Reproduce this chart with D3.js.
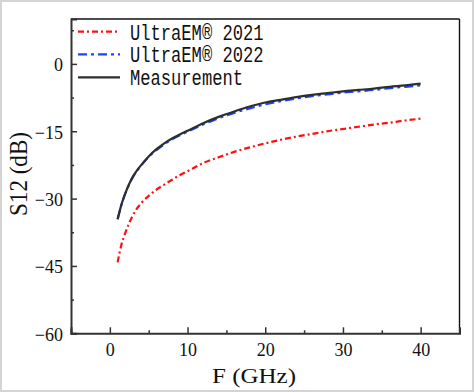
<!DOCTYPE html>
<html><head><meta charset="utf-8">
<script src="https://cdn.jsdelivr.net/npm/d3@7"></script>
<style>html,body{margin:0;padding:0;background:#fff;}svg{display:block;}</style>
</head><body>
<svg id="c" width="474" height="392"></svg>
<script>
const freq = [1,1.5,2,2.5,3,3.5,4,5,6,7,8,9,10,12,14,16,18,20,22,24,26,28,30,32,34,36,38,40];
const ultra2021 = [-44.2,-40.2,-37.6,-35.4,-33.6,-32.2,-31.1,-29.4,-28.0,-26.9,-25.8,-24.8,-23.9,-22.1,-20.8,-19.6,-18.6,-17.7,-16.9,-16.2,-15.6,-15.0,-14.5,-14.0,-13.5,-13.1,-12.6,-12.2];
const ultra2022 = [-34.6,-31.3,-28.8,-26.8,-25.1,-23.8,-22.7,-20.7,-19.2,-17.9,-16.8,-15.9,-15.1,-13.5,-12.1,-10.9,-9.9,-9.0,-8.3,-7.7,-7.2,-6.8,-6.4,-6.1,-5.8,-5.4,-5.1,-4.8];
const measurement = [-34.6,-31.3,-28.8,-26.7,-25.0,-23.7,-22.6,-20.6,-19.0,-17.7,-16.6,-15.7,-14.9,-13.2,-11.8,-10.6,-9.5,-8.6,-8.0,-7.4,-6.9,-6.5,-6.1,-5.8,-5.5,-5.1,-4.8,-4.4];
const xTicks = [0,10,20,30,40];
const xMinor = [-5,5,15,25,35,45];
const yTicks = [0,-15,-30,-45,-60];
const yMinor = [7.5,-7.5,-22.5,-37.5,-52.5];
const seriesNames = ["UltraEM\u00AE 2021","UltraEM\u00AE 2022","Measurement"];

const svg = d3.select("#c");
svg.append("rect").attr("x",1).attr("y",1).attr("width",472).attr("height",390)
  .attr("fill","#fff").attr("stroke","#d4d4d4").attr("stroke-width",2);

const L=71, R=459.5, T=19, B=333.3;
const x = d3.scaleLinear().domain([-5,45]).range([L,R]);
const y = d3.scaleLinear().domain([-60,10]).range([B,T]);

const serif = "'Liberation Serif','Times New Roman',serif";
const fmt = d => d < 0 ? "\u2212" + Math.abs(d) : String(d);

// frame top/right
svg.append("line").attr("x1",L).attr("x2",R).attr("y1",T).attr("y2",T).attr("stroke","#111").attr("stroke-width",1.4);
svg.append("line").attr("x1",R).attr("x2",R).attr("y1",T).attr("y2",B).attr("stroke","#111").attr("stroke-width",1.4);

// axes
const gx = svg.append("g").attr("transform",`translate(0,${B})`)
  .call(d3.axisBottom(x).tickValues(xTicks).tickSize(-6).tickPadding(13).tickFormat(fmt));
const gxm = svg.append("g").attr("transform",`translate(0,${B})`)
  .call(d3.axisBottom(x).tickValues(xMinor).tickSize(-3).tickFormat(""));
const gy = svg.append("g").attr("transform",`translate(${L},0)`)
  .call(d3.axisLeft(y).tickValues(yTicks).tickSize(-6).tickPadding(8).tickFormat(fmt));
const gym = svg.append("g").attr("transform",`translate(${L},0)`)
  .call(d3.axisLeft(y).tickValues(yMinor).tickSize(-3).tickFormat(""));
[gx,gxm,gy,gym].forEach(g=>{
  g.select(".domain").attr("stroke","#333").attr("stroke-width",2);
  g.selectAll(".tick line").attr("stroke","#333").attr("stroke-width",1.5);
  g.selectAll(".tick text").attr("font-family",serif).attr("font-size",18).attr("fill","#111");
});
gym.select(".domain").remove(); gxm.select(".domain").remove();
gx.selectAll(".tick text").attr("dy","0.55em");
gy.selectAll(".tick text").attr("dy","0.38em");

// lines
const line = d3.line().x((d,i)=>x(freq[i])).y(d=>y(d)).curve(d3.curveMonotoneX);
const styles = [
  {data: ultra2021, color:"#ff1010", dash:"6,3,2,3", w:2.2},
  {data: ultra2022, color:"#1a44ff", dash:"9,4,3,4", w:2.2},
  {data: measurement, color:"#2e2e2e", dash:null, w:2.2}
];
styles.forEach(s=>{
  const p = svg.append("path").datum(s.data).attr("d",line).attr("fill","none")
    .attr("stroke",s.color).attr("stroke-width",s.w);
  if (s.dash) p.attr("stroke-dasharray",s.dash);
});

// legend
const legY = [31.7,54.3,77.3];
styles.forEach((s,i)=>{
  const l = svg.append("line").attr("x1",78).attr("x2",120).attr("y1",legY[i]).attr("y2",legY[i])
    .attr("stroke",s.color).attr("stroke-width",2.2);
  if (s.dash) l.attr("stroke-dasharray",s.dash);
  svg.append("text").attr("x",130).attr("y",legY[i]).attr("dy","0.36em")
    .attr("font-family","'Liberation Mono','Courier New',monospace").attr("font-size",22)
    .attr("fill","#111")
    .attr("textLength", seriesNames[i].length*10.27).attr("lengthAdjust","spacingAndGlyphs")
    .text(seriesNames[i]);
});

// axis titles
svg.append("text").attr("x",254).attr("y",383).attr("text-anchor","middle")
  .attr("font-family",serif).attr("font-size",22).attr("fill","#111")
  .attr("textLength",84).attr("lengthAdjust","spacingAndGlyphs")
  .text("F (GHz)");
svg.append("text").attr("transform","translate(27,174) rotate(-90)").attr("text-anchor","middle")
  .attr("font-family",serif).attr("font-size",26).attr("fill","#111")
  .attr("textLength",84).attr("lengthAdjust","spacingAndGlyphs")
  .text("S12 (dB)");
</script>
</body></html>
